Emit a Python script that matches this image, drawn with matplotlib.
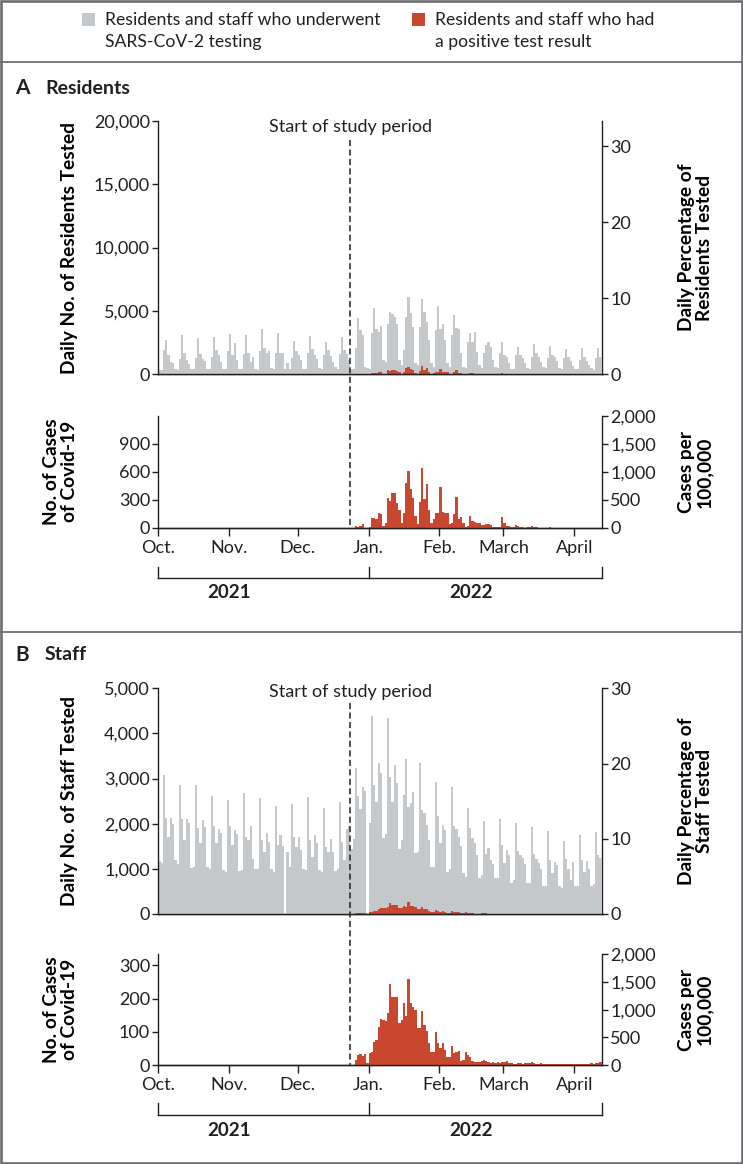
import numpy as np
import pandas as pd
import matplotlib
matplotlib.use('Agg')
import matplotlib.pyplot as plt
import matplotlib.dates as mdates
from matplotlib.lines import Line2D
from matplotlib.patches import Rectangle
from matplotlib.transforms import blended_transform_factory
from matplotlib.ticker import FuncFormatter

W, H = 743, 1164
START = '2021-10-01'        # first day of the testing series
CASES_START = '2021-12-26'  # first day of the positive-test series
STUDY_START = '2021-12-24'
X_END = '2022-04-13'

# daily number of residents tested, Oct 1 2021 - Apr 12 2022
res_tested = [
    340, 340,
    1900, 2710, 1550, 1000, 900, 420, 350,
    1200, 3100, 1700, 1150, 800, 450, 380,
    1250, 2840, 1600, 1200, 1050, 420, 380,
    1350, 2970, 1900, 1550, 1000, 450, 400,
    1800, 3180, 1500, 2450, 1100, 430, 380,
    1600, 3100, 1700, 950, 1350, 380, 300,
    1800, 3580, 2100, 1700, 1800, 500, 420,
    1700, 3230, 1650, 1700, 420, 900, 400,
    1300, 2660, 1800, 1500, 1100, 450, 380,
    1700, 3050, 2000, 1500, 1200, 500, 400,
    1500, 2580, 1950, 1450, 1000, 550, 420,
    1600, 2970, 1900, 1600, 1100, 450, 400,
    2050, 4420, 3500, 3100, 600, 470, 400,
    3240, 5200, 3600, 3370, 3800, 1130, 1000,
    4000, 4890, 4760, 4550, 3950, 1130, 740,
    1920, 4550, 6080, 4810, 3760, 920, 740,
    3760, 5920, 4940, 4160, 2710, 920, 600,
    3500, 5390, 3550, 3950, 2700, 870, 600,
    3100, 4680, 3630, 3550, 1660, 600, 470,
    2580, 3290, 2520, 3370, 1790, 740, 470,
    1660, 2310, 2520, 2180, 1130, 550, 470,
    1660, 2580, 1530, 1390, 870, 450, 400,
    1530, 2130, 1530, 1260, 870, 470, 420,
    1390, 2370, 1660, 1390, 1000, 550, 470,
    1260, 2260, 1530, 1390, 1050, 470, 420,
    1260, 1970, 1390, 1080, 660, 400, 400,
    1130, 2050, 1390, 1080, 740, 470, 340,
    1260, 2050, 1400,
]

# daily number of residents with a positive test, from Dec 26 2021
res_cases = [
    18, 10, 22, 40, 0, 0, 5,
    100, 108, 90, 155, 148, 15, 54,
    317, 292, 378, 378, 263, 190, 54,
    162, 479, 605, 414, 317, 126, 40,
    274, 641, 310, 472, 191, 47, 90,
    162, 160, 436, 166, 158, 155, 40,
    54, 144, 328, 90, 119, 47, 11,
    15, 126, 76, 61, 54, 47, 32,
    25, 36, 36, 25, 11, 5, 5,
    5, 112, 47, 22, 18, 5, 5,
    25, 18, 5, 3, 2, 3, 5,
    14, 11, 3, 2, 2, 1, 1,
    2, 3, 2, 1, 1, 0, 0,
    1, 2, 1, 1, 0, 0, 0,
    1, 1, 1, 0, 0, 0, 0, 0, 1, 1,
]

# daily number of staff tested, Oct 1 2021 - Apr 12 2022
staff_tested = [
    1180, 1120,
    3080, 2120, 1710, 2120, 2000, 1200, 1110,
    2860, 2100, 1630, 2100, 2020, 1010, 1050,
    2860, 1910, 1580, 2080, 1920, 1050, 990,
    2620, 1950, 1570, 1880, 1790, 980, 920,
    2530, 1940, 1530, 1860, 1770, 960, 980,
    2680, 1710, 1640, 1940, 1210, 990, 1000,
    2560, 1630, 1380, 1790, 1600, 990, 940,
    2400, 1530, 1750, 1500, 0, 1370, 1050,
    2440, 1710, 1490, 1710, 1420, 990, 980,
    2600, 1640, 1270, 1750, 1570, 980, 940,
    2340, 1490, 1380, 1660, 1380, 960, 990,
    2480, 1600, 1200, 1880, 1940, 1430, 1660,
    3230, 2620, 2320, 2820, 2730, 0, 2010,
    4390, 2860, 2490, 3350, 3130, 1680, 1770,
    4340, 3040, 2490, 3300, 2910, 1430, 1640,
    2640, 3430, 2380, 2450, 2710, 1350, 1380,
    3340, 2300, 2230, 1970, 1640, 1050, 1050,
    2930, 2160, 1570, 1970, 1860, 920, 990,
    2810, 1940, 1880, 1710, 1500, 900, 830,
    2340, 1900, 1680, 1580, 1300, 790, 860,
    2070, 1340, 1460, 1200, 1100, 790, 790,
    2110, 1530, 1140, 1420, 1310, 690, 750,
    2020, 1400, 1310, 1230, 1100, 680, 680,
    1920, 1330, 1210, 1140, 1000, 620, 620,
    1830, 1200, 900, 1160, 1090, 610, 570,
    1620, 1210, 990, 750, 1160, 620, 620,
    1740, 1200, 920, 1170, 990, 620, 670,
    1810, 1310, 1250,
]

# daily number of staff with a positive test, from Dec 26 2021
staff_cases = [
    15, 30, 33, 27, 32, 5, 35,
    38, 70, 75, 115, 139, 136, 131,
    156, 244, 204, 204, 206, 126, 136,
    186, 149, 260, 186, 176, 166, 111,
    111, 164, 121, 101, 65, 40, 40,
    99, 67, 50, 65, 45, 23, 23,
    57, 35, 40, 42, 12, 15, 40,
    30, 25, 13, 10, 8, 10, 12,
    14, 13, 10, 7, 8, 7, 10,
    7, 9, 8, 11, 7, 5, 4,
    4, 5, 5, 4, 5, 5, 5,
    8, 6, 4, 4, 5, 3, 3,
    4, 4, 3, 3, 2, 2, 3,
    3, 4, 3, 2, 2, 2, 3,
    3, 4, 3, 3, 4, 5, 4, 6, 7, 8,
]

month_ticks = ['2021-10-01', '2021-11-01', '2021-12-01', '2022-01-01',
               '2022-02-01', '2022-03-01', '2022-04-01']
month_labels = ['Oct.', 'Nov.', 'Dec.', 'Jan.', 'Feb.', 'March', 'April']

GRAY = '#c5c8cb'
RED = '#c8472e'
INK = '#231f20'
FRAME = '#6d6e71'

plt.rcParams['font.family'] = ['Lato', 'DejaVu Sans']
plt.rcParams['text.color'] = INK
plt.rcParams['axes.edgecolor'] = INK
plt.rcParams['xtick.color'] = INK
plt.rcParams['ytick.color'] = INK

FS = 13        # tick labels
LFS = 13.8     # axis labels
LW = 1.0
LEFT_LAB = -0.181
RIGHT_LAB = 1.172

fig = plt.figure(figsize=(W / 100, H / 100), dpi=100)


def fx(px):
    return px / W


def fy(py):
    return 1 - py / H


def dnum(s):
    return mdates.date2num(pd.Timestamp(s))


def make_axes(top, bottom):
    left, right = 158.3, 601.7
    ax = fig.add_axes([fx(left), fy(bottom), fx(right) - fx(left), (bottom - top) / H])
    ax2 = ax.twinx()
    for a in (ax, ax2):
        a.spines['top'].set_visible(False)
        for s in a.spines.values():
            s.set_linewidth(LW)
        a.tick_params(axis='y', length=4, width=LW, labelsize=FS, pad=2)
    ax.spines['right'].set_visible(False)
    ax2.spines['left'].set_visible(False)
    ax.set_xlim(dnum(START), dnum(X_END))
    ax.yaxis.set_major_formatter(FuncFormatter(lambda v, p: f'{v:,.0f}'))
    ax2.yaxis.set_major_formatter(FuncFormatter(lambda v, p: f'{v:,.0f}'))
    ax.set_zorder(ax2.get_zorder() + 1)
    ax.patch.set_visible(False)
    return ax, ax2


def bars(ax, start, values, color):
    days = mdates.date2num(pd.date_range(start, periods=len(values), freq='D'))
    ax.bar(days, values, width=1.0, align='edge', color=color, linewidth=0)


def panel(geo, letter, title, tested, cases, top_max, pct_max, pct_ticks,
          cases_max, cases_ticks, ylabel_top, ylabel_pct, top_ticks):
    ax, ax2 = make_axes(*geo['top'])
    bars(ax, START, tested, GRAY)
    bars(ax, CASES_START, cases, RED)
    ax.set_xlim(dnum(START), dnum(X_END))
    ax.set_ylim(0, top_max)
    ax.set_yticks(top_ticks)
    ax.set_xticks([])
    ax2.set_ylim(0, pct_max)
    ax2.set_yticks(pct_ticks)
    ax.set_ylabel(ylabel_top, fontsize=LFS, fontweight='bold')
    ax.yaxis.set_label_coords(LEFT_LAB, 0.5)
    ax2.set_ylabel(ylabel_pct, fontsize=LFS, fontweight='bold', linespacing=1.05)
    ax2.yaxis.set_label_coords(RIGHT_LAB, 0.5)

    bx, bx2 = make_axes(*geo['bot'])
    bars(bx, CASES_START, cases, RED)
    bx.set_xlim(dnum(START), dnum(X_END))
    bx.set_ylim(0, cases_max)
    bx.set_yticks(cases_ticks)
    bx2.set_ylim(0, 2000)
    bx2.set_yticks([0, 500, 1000, 1500, 2000])
    bx.set_xticks([dnum(m) for m in month_ticks])
    bx.set_xticklabels(month_labels)
    bx.tick_params(axis='x', length=5.8, width=LW, labelsize=FS, pad=3)
    bx.set_ylabel('No. of Cases\nof Covid-19', fontsize=LFS, fontweight='bold',
                  linespacing=1.05)
    bx.yaxis.set_label_coords(LEFT_LAB, 0.5)
    bx2.set_ylabel('Cases per\n100,000', fontsize=LFS, fontweight='bold',
                   linespacing=1.05)
    bx2.yaxis.set_label_coords(RIGHT_LAB, 0.5)

    # start of study period
    tr = blended_transform_factory(ax.transData, fig.transFigure)
    xs = dnum(STUDY_START)
    d0, d1 = geo['dash']
    fig.add_artist(Line2D([xs, xs], [fy(d0), fy(d1)], transform=tr,
                          color=INK, lw=1.1, ls=(0, (4, 2.2))))
    fig.text(xs, fy(geo['study']), 'Start of study period', transform=tr,
             ha='center', va='center', fontsize=13)

    # year bracket under the month labels
    yb, yt = fy(geo['bracket'][0]), fy(geo['bracket'][1])
    ends = [dnum(e) for e in ('2021-10-01', '2022-01-01', X_END)]
    fig.add_artist(Line2D([ends[0], ends[-1]], [yb, yb], transform=tr, color=INK, lw=LW))
    for e in ends:
        fig.add_artist(Line2D([e, e], [yb, yt], transform=tr, color=INK, lw=LW))
    fig.text(dnum('2021-11-01'), fy(geo['year']), '2021', transform=tr,
             ha='center', va='center', fontsize=13.5, fontweight='bold')
    fig.text(dnum('2022-02-15'), fy(geo['year']), '2022', transform=tr,
             ha='center', va='center', fontsize=13.5, fontweight='bold')

    fig.text(fx(15), fy(geo['title']), letter, ha='left', va='center', fontsize=15,
             fontweight='bold')
    fig.text(fx(45), fy(geo['title']), title, ha='left', va='center', fontsize=14,
             fontweight='bold')


geo_a = dict(top=(120.7, 374.3), bot=(416.0, 527.7), dash=(140, 528), study=127,
             bracket=(577.7, 566.7), year=593, title=88)
geo_b = dict(top=(688.3, 914.0), bot=(954.3, 1065.0), dash=(703, 1065), study=692,
             bracket=(1115, 1103.3), year=1131, title=655)

panel(geo_a, 'A', 'Residents', res_tested, res_cases, 20000, 20000 / 600,
      [0, 10, 20, 30], 1200, [0, 300, 600, 900],
      'Daily No. of Residents Tested', 'Daily Percentage of\nResidents Tested',
      [0, 5000, 10000, 15000, 20000])

panel(geo_b, 'B', 'Staff', staff_tested, staff_cases, 5000, 30,
      [0, 10, 20, 30], 5000 / 15, [0, 100, 200, 300],
      'Daily No. of Staff Tested', 'Daily Percentage of\nStaff Tested',
      [0, 1000, 2000, 3000, 4000, 5000])

# legend
fig.add_artist(Rectangle((fx(82), fy(26)), fx(13), 13 / H, transform=fig.transFigure,
                         color=GRAY, lw=0))
fig.text(fx(105), fy(31), 'Residents and staff who underwent\nSARS-CoV-2 testing',
         ha='left', va='center', fontsize=12.7, linespacing=1.4)
fig.add_artist(Rectangle((fx(412), fy(26)), fx(13), 13 / H, transform=fig.transFigure,
                         color=RED, lw=0))
fig.text(fx(435), fy(31), 'Residents and staff who had\na positive test result',
         ha='left', va='center', fontsize=12.7, linespacing=1.4)

# frame lines
fig.add_artist(Rectangle((fx(1.3), fy(1162.7)), fx(740.4), 1161.4 / H,
                         transform=fig.transFigure, fill=False, ec=FRAME, lw=1.9))
for py in (62, 631.7):
    fig.add_artist(Line2D([0, 1], [fy(py), fy(py)], transform=fig.transFigure,
                          color=FRAME, lw=1.3))

fig.savefig('out.png', dpi=100)
